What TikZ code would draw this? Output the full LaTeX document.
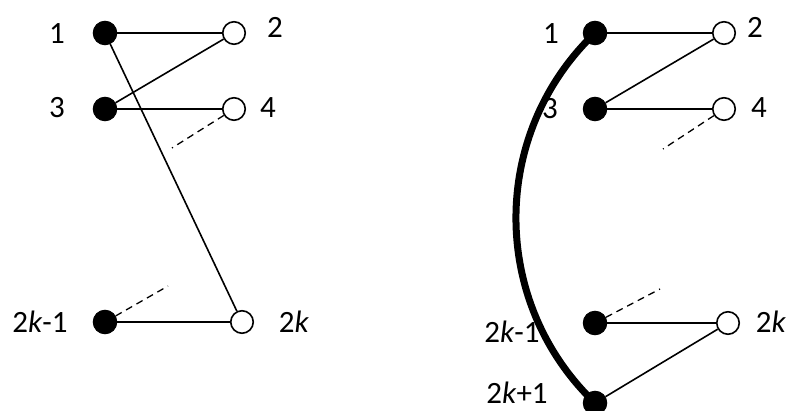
\documentclass[tikz,border=0pt]{standalone}
\usepackage{fontspec}
\setmainfont{Carlito}
\begin{document}
\begin{tikzpicture}[x=1pt,y=-1pt,
  filled/.style={circle,fill=black,draw=black,line width=1pt,minimum size=23.5pt,inner sep=0pt},
  hollow/.style={circle,fill=white,draw=black,line width=1.6pt,minimum size=22.5pt,inner sep=0pt},
  edge/.style={line width=1.6pt},
  dashedge/.style={line width=1.3pt,dash pattern=on 7pt off 5pt},
  lbl/.style={font=\fontsize{31}{33}\selectfont,inner sep=0pt},
  arcedge/.style={line width=7pt}]
\useasboundingbox (0,0) rectangle (791,411);

% ---- left graph ----
\node[filled] (l1)  at (105,33)  {};
\node[filled] (l3)  at (105,109) {};
\node[filled] (l2k1) at (105,322) {};
\node[hollow] (l2)  at (234,33)  {};
\node[hollow] (l4)  at (234,109) {};
\node[hollow] (l2k) at (242,322) {};
\coordinate (ld1) at (172,148);
\coordinate (ld2) at (168,286);

\draw[edge] (l1) -- (l2);
\draw[edge] (l3) -- (l2);
\draw[edge] (l3) -- (l4);
\draw[edge] (l1) -- (l2k);
\draw[edge] (l2k1) -- (l2k);
\draw[dashedge] (l4) -- (ld1);
\draw[dashedge] (l2k1) -- (ld2);

\node[lbl] (tl1) at (57,34) {1};
\node[lbl] (tl2) at (275,27) {2};
\node[lbl] (tl3) at (57,108) {3};
\node[lbl] (tl4) at (268,108) {4};
\node[lbl] (tl2k1) at (40,322) {2\textit{k}-1};
\node[lbl] (tl2k) at (294,322) {2\textit{k}};

% ---- right graph ----
\node[filled] (r1)  at (595,33)  {};
\node[filled] (r3)  at (595,109) {};
\node[filled] (r2k1) at (595,323) {};
\node[filled] (r2kp) at (595,403) {};
\node[hollow] (r2)  at (724,33)  {};
\node[hollow] (r4)  at (724,109) {};
\node[hollow] (r2k) at (728,323) {};
\coordinate (rd1) at (663,149);
\coordinate (rd2) at (660,289);

\draw[arcedge] (r1.center) .. controls (489.6,133.9) and (489.6,302.1) .. (r2kp.center);
\draw[edge] (r1) -- (r2);
\draw[edge] (r3) -- (r2);
\draw[edge] (r3) -- (r4);
\draw[edge] (r2k1) -- (r2k);
\draw[edge] (r2kp) -- (r2k);
\draw[dashedge] (r4) -- (rd1);
\draw[dashedge] (r2k1) -- (rd2);

\node[lbl] (tr1) at (551,34) {1};
\node[lbl] (tr2) at (755,27) {2};
\node[lbl] (tr3) at (550,109) {3};
\node[lbl] (tr4) at (759,108) {4};
\node[lbl] (tr2k1) at (512,332) {2\textit{k}-1};
\node[lbl] (tr2k) at (771,322) {2\textit{k}};
\node[lbl] (tr2kp) at (517,393) {2\textit{k}+1};
\end{tikzpicture}
\end{document}
